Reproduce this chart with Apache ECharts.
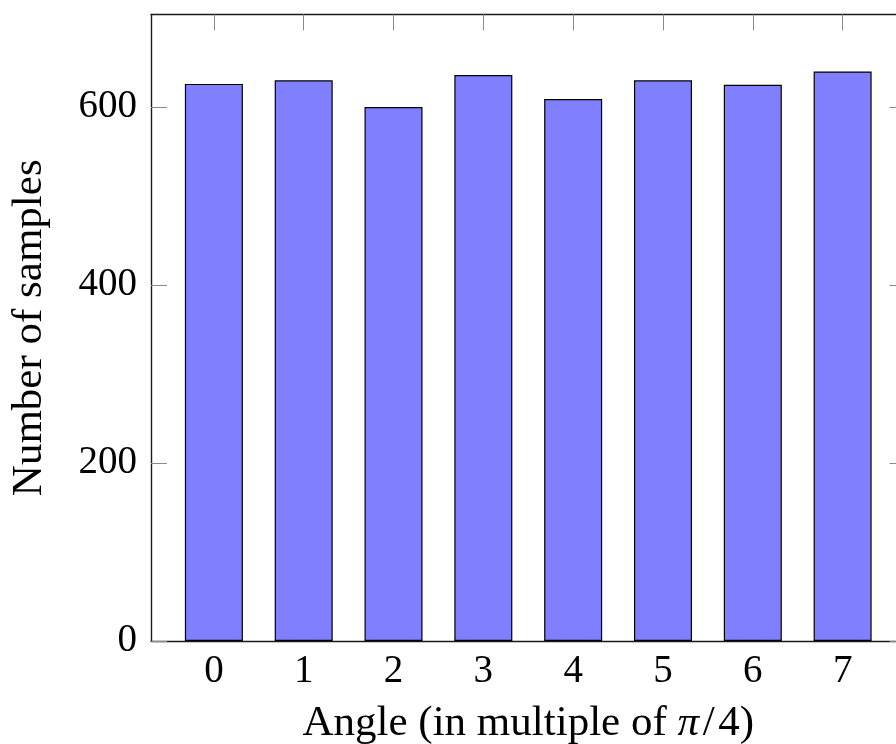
<!DOCTYPE html>
<html>
<head>
<meta charset="utf-8">
<script src="https://cdn.jsdelivr.net/npm/echarts@6/dist/echarts.min.js"></script>
<style>
html,body{margin:0;padding:0;background:#fff;overflow:hidden;width:896px;height:744px;}
#chart{width:920px;height:744px;}
</style>
</head>
<body>
<div id="chart"></div>
<script>
const angles = [0, 1, 2, 3, 4, 5, 6, 7];
const samples = [626, 630, 600, 636, 609, 630, 625, 640];
const yTicks = [0, 200, 400, 600];
const xTitle = 'Angle (in multiple of {pi|π}\u200A/\u200A4)';
const yTitle = 'Number of samples';

const FONT = '"Liberation Serif", "DejaVu Serif", serif';
const chart = echarts.init(document.getElementById('chart'), null, {renderer: 'canvas'});

const axisLine = {show: true, onZero: false, lineStyle: {color: '#1a1a1a', width: 1.4}};
const tick = {show: true, inside: true, length: 16, lineStyle: {color: '#8a8a8a', width: 1}};

chart.setOption({
  animation: false,
  grid: {left: 151, top: 14.5, width: 754.5, height: 626.5, containLabel: false, outerBoundsMode: 'none'},
  xAxis: [
    {
      type: 'value', min: -0.7, max: 7.7, position: 'bottom',
      axisLine: axisLine,
      axisTick: Object.assign({}, tick, {customValues: angles}),
      axisLabel: {customValues: angles, color: '#000', fontFamily: FONT, fontSize: 39, margin: 11},
      splitLine: {show: false},
      name: xTitle, nameLocation: 'middle', nameGap: 61,
      nameTextStyle: {color: '#000', fontFamily: FONT, fontSize: 43,
        rich: {pi: {fontFamily: FONT, fontSize: 43, fontStyle: 'italic', color: '#000'}}}
    },
    {
      type: 'value', min: -0.7, max: 7.7, position: 'top',
      axisLine: axisLine,
      axisTick: Object.assign({}, tick, {customValues: angles}),
      axisLabel: {show: false},
      splitLine: {show: false}
    }
  ],
  yAxis: [
    {
      type: 'value', min: 0, max: 704, position: 'left',
      axisLine: axisLine,
      axisTick: Object.assign({}, tick, {customValues: yTicks}),
      axisLabel: {customValues: yTicks, color: '#000', fontFamily: FONT, fontSize: 39, margin: 14},
      splitLine: {show: false},
      name: yTitle, nameLocation: 'middle', nameGap: 100, nameRotate: 90,
      nameTextStyle: {color: '#000', fontFamily: FONT, fontSize: 43}
    },
    {
      type: 'value', min: 0, max: 704, position: 'right',
      axisLine: axisLine,
      axisTick: Object.assign({}, tick, {customValues: yTicks}),
      axisLabel: {show: false},
      splitLine: {show: false}
    }
  ],
  series: [{
    type: 'bar',
    xAxisIndex: 0, yAxisIndex: 0,
    barWidth: 58,
    data: angles.map((a, i) => [a, samples[i]]),
    itemStyle: {color: '#8080ff', borderColor: '#000', borderWidth: 1.2}
  }]
});
</script>
</body>
</html>
